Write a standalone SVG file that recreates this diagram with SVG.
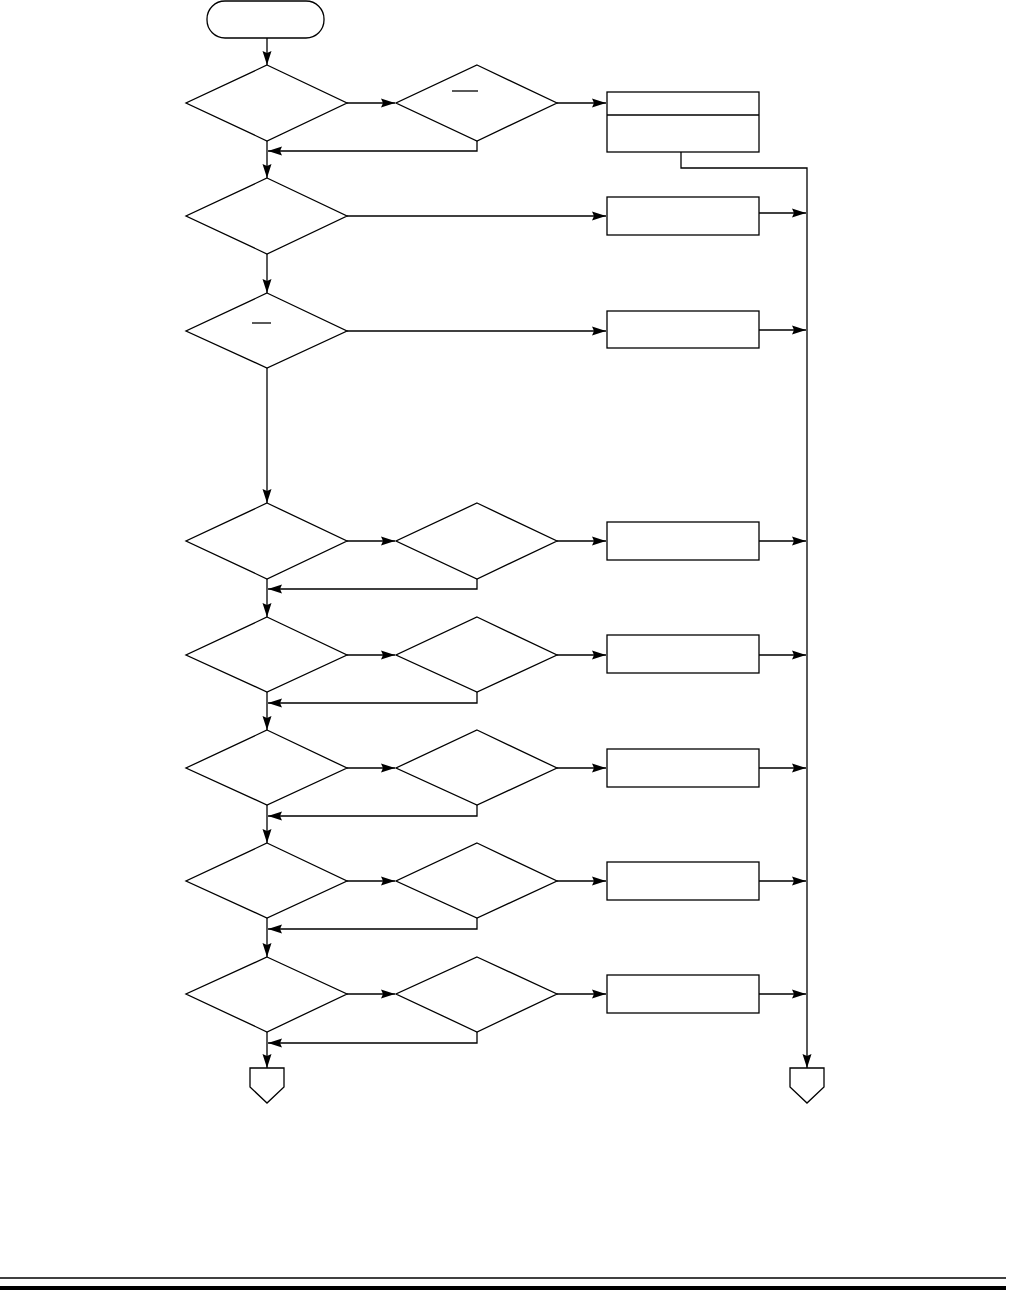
<svg xmlns="http://www.w3.org/2000/svg" width="1009" height="1300" viewBox="0 0 1009 1300">
<defs>
<marker id="ah" markerUnits="userSpaceOnUse" markerWidth="14" markerHeight="10" viewBox="0 0 14 10" refX="14" refY="5" orient="auto">
<path d="M0,0.5 L14,5 L0,9.5 L2,5 Z" fill="#000"/>
</marker>
<style>
.s{fill:#fff;stroke:#000;stroke-width:1.3}
.c{fill:none;stroke:#000;stroke-width:1.3}
.a{fill:none;stroke:#000;stroke-width:1.3;marker-end:url(#ah)}
.o{stroke:#000;stroke-width:1.3}
</style>
</defs>
<rect width="1009" height="1300" fill="#fff"/>
<g id="start"><rect class="s" x="207" y="1" width="117" height="37" rx="18" ry="18"/></g>
<g id="d1"><polygon class="s" points="267,65 347,103 267,141 186,103"/></g>
<g id="d1b"><polygon class="s" points="477,65 557,103 477,141 396,103"/><line class="o" x1="452" y1="91" x2="478" y2="91"/></g>
<g id="b1"><rect class="s" x="607" y="92" width="152" height="60"/><line class="o" x1="607" y1="115" x2="759" y2="115"/></g>
<g id="d2"><polygon class="s" points="267,178 347,216 267,254 186,216"/></g>
<g id="b2"><rect class="s" x="607" y="197" width="152" height="38"/></g>
<g id="d3"><polygon class="s" points="267,293 347,331 267,368 186,331"/><line class="o" x1="252" y1="323" x2="271" y2="323"/></g>
<g id="b3"><rect class="s" x="607" y="311" width="152" height="37"/></g>
<g id="d4"><polygon class="s" points="267,503 347,541 267,579 186,541"/></g>
<g id="d4b"><polygon class="s" points="477,503 557,541 477,579 396,541"/></g>
<g id="b4"><rect class="s" x="607" y="522" width="152" height="38"/></g>
<g id="d5"><polygon class="s" points="267,617 347,655 267,692 186,655"/></g>
<g id="d5b"><polygon class="s" points="477,617 557,655 477,692 396,655"/></g>
<g id="b5"><rect class="s" x="607" y="635" width="152" height="38"/></g>
<g id="d6"><polygon class="s" points="267,730 347,768 267,805 186,768"/></g>
<g id="d6b"><polygon class="s" points="477,730 557,768 477,805 396,768"/></g>
<g id="b6"><rect class="s" x="607" y="749" width="152" height="38"/></g>
<g id="d7"><polygon class="s" points="267,843 347,881 267,918 186,881"/></g>
<g id="d7b"><polygon class="s" points="477,843 557,881 477,918 396,881"/></g>
<g id="b7"><rect class="s" x="607" y="862" width="152" height="38"/></g>
<g id="d8"><polygon class="s" points="267,957 347,994 267,1032 186,994"/></g>
<g id="d8b"><polygon class="s" points="477,957 557,994 477,1032 396,994"/></g>
<g id="b8"><rect class="s" x="607" y="975" width="152" height="38"/></g>
<g id="conn1"><polygon class="s" points="250,1068 284,1068 284,1087 267,1103 250,1087"/></g>
<g id="conn2"><polygon class="s" points="790,1068 824,1068 824,1087 807,1103 790,1087"/></g>
<g id="connectors">
<line class="a" x1="267" y1="38" x2="267" y2="65"/>
<line class="a" x1="347" y1="103" x2="395" y2="103"/>
<line class="a" x1="557" y1="103" x2="606" y2="103"/>
<polyline class="a" points="477,141 477,151 268,151"/>
<line class="a" x1="267" y1="141" x2="267" y2="178"/>
<line class="a" x1="347" y1="216" x2="606" y2="216"/>
<line class="a" x1="267" y1="254" x2="267" y2="293"/>
<line class="a" x1="347" y1="331" x2="606" y2="331"/>
<line class="a" x1="267" y1="368" x2="267" y2="503"/>
<polyline class="a" points="681,152 681,168 807,168 807,1068"/>
<line class="a" x1="759" y1="213" x2="806" y2="213"/>
<line class="a" x1="759" y1="330" x2="806" y2="330"/>
<line class="a" x1="347" y1="541" x2="395" y2="541"/>
<line class="a" x1="557" y1="541" x2="606" y2="541"/>
<line class="a" x1="759" y1="541" x2="806" y2="541"/>
<polyline class="a" points="477,579 477,589 268,589"/>
<line class="a" x1="267" y1="579" x2="267" y2="617"/>
<line class="a" x1="347" y1="655" x2="395" y2="655"/>
<line class="a" x1="557" y1="655" x2="606" y2="655"/>
<line class="a" x1="759" y1="655" x2="806" y2="655"/>
<polyline class="a" points="477,692 477,703 268,703"/>
<line class="a" x1="267" y1="692" x2="267" y2="730"/>
<line class="a" x1="347" y1="768" x2="395" y2="768"/>
<line class="a" x1="557" y1="768" x2="606" y2="768"/>
<line class="a" x1="759" y1="768" x2="806" y2="768"/>
<polyline class="a" points="477,805 477,816 268,816"/>
<line class="a" x1="267" y1="805" x2="267" y2="843"/>
<line class="a" x1="347" y1="881" x2="395" y2="881"/>
<line class="a" x1="557" y1="881" x2="606" y2="881"/>
<line class="a" x1="759" y1="881" x2="806" y2="881"/>
<polyline class="a" points="477,918 477,929 268,929"/>
<line class="a" x1="267" y1="918" x2="267" y2="957"/>
<line class="a" x1="347" y1="994" x2="395" y2="994"/>
<line class="a" x1="557" y1="994" x2="606" y2="994"/>
<line class="a" x1="759" y1="994" x2="806" y2="994"/>
<polyline class="a" points="477,1032 477,1043 268,1043"/>
<line class="a" x1="267" y1="1032" x2="267" y2="1068"/>
</g>
<g id="footer">
<line x1="0" y1="1278" x2="1006" y2="1278" stroke="#000" stroke-width="1.3"/>
<rect x="0" y="1286" width="1006" height="4" fill="#000"/>
</g>
</svg>
